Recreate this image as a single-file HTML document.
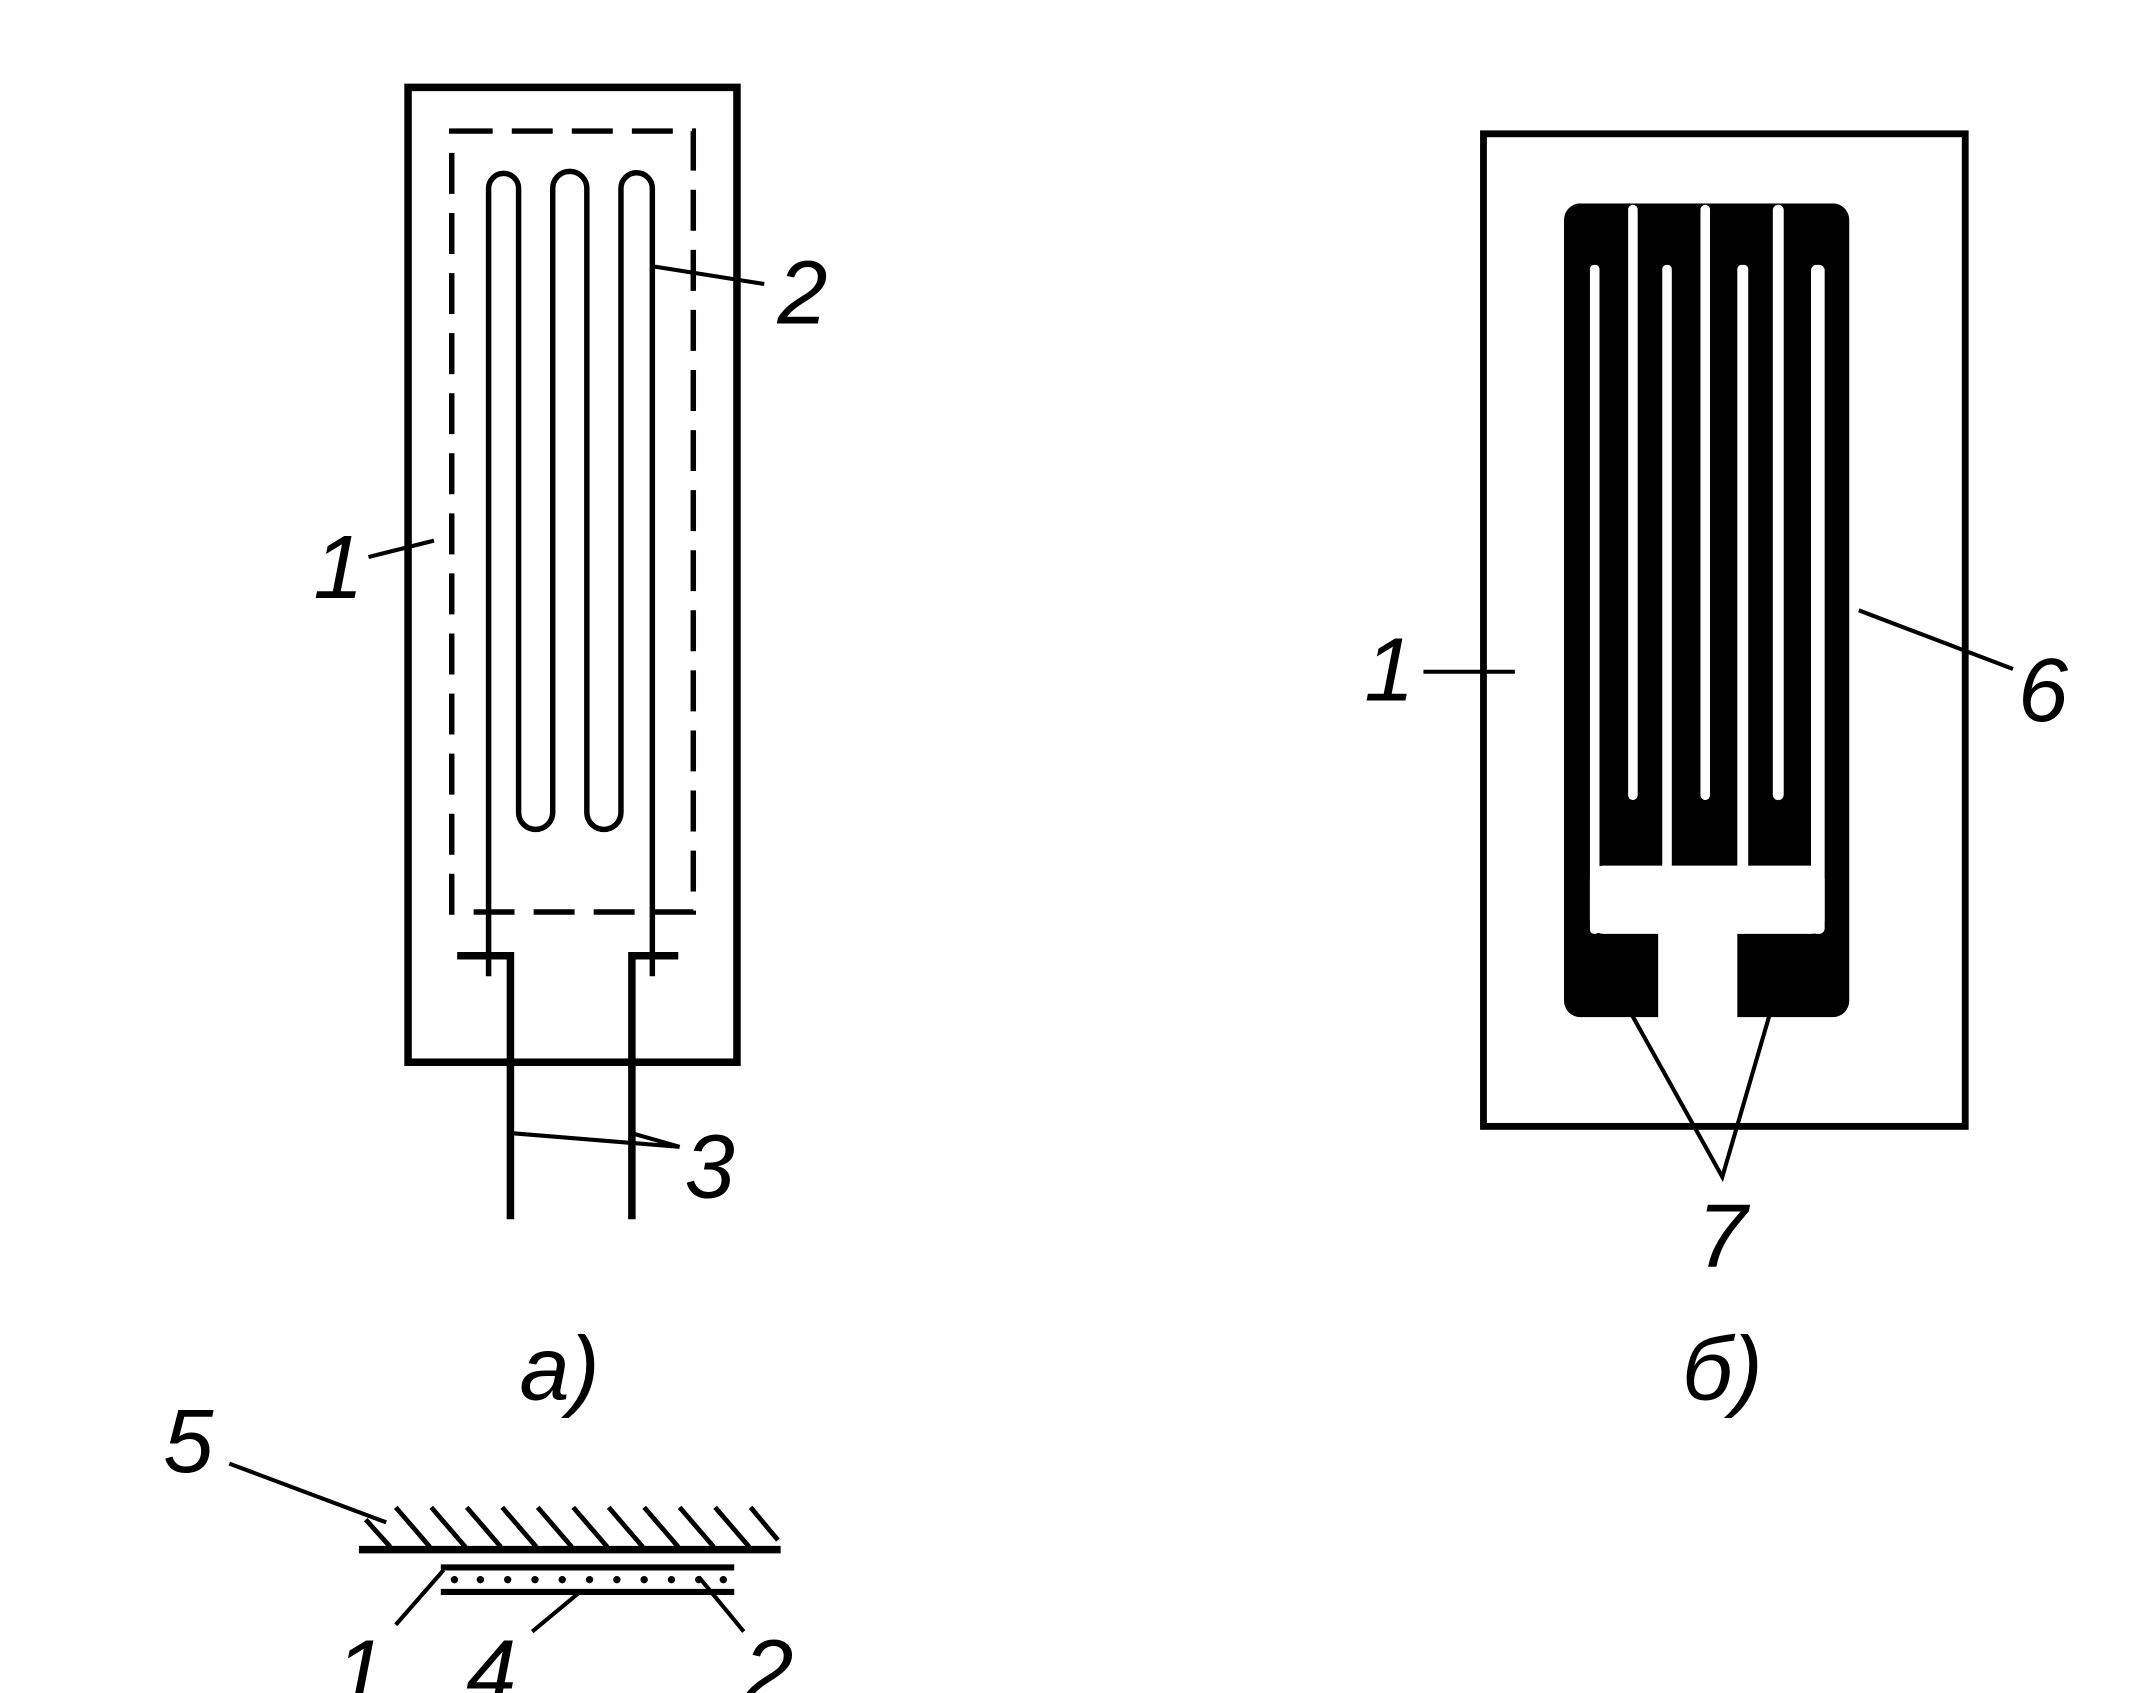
<!DOCTYPE html>
<html><head><meta charset="utf-8"><style>html,body{margin:0;padding:0;background:#fff}svg{display:block}</style></head>
<body>
<svg width="2129" height="1693" viewBox="0 0 1560 1240" preserveAspectRatio="none" xmlns="http://www.w3.org/2000/svg">
<g fill="none" stroke="#000" stroke-linecap="butt">
<!-- left figure -->
<rect x="299" y="64" width="241" height="714" stroke-width="5.5"/>
<rect x="331" y="96" width="177" height="572" stroke-width="4" stroke-dasharray="30,14"/>
<path d="M358 715 V138 A11 11 0 0 1 380 138 V595 A12.5 12.5 0 0 0 405 595 V138 A12.5 12.5 0 0 1 430 138 V595 A12.5 12.5 0 0 0 455 595 V138 A11.5 11.5 0 0 1 478 138 V715" stroke-width="4"/>
<path d="M335 700 H374 V893" stroke-width="5.5"/>
<path d="M497 700 H463 V893" stroke-width="5.5"/>
<path d="M270 408 L318 396" stroke-width="3"/>
<path d="M478 195 L560 208" stroke-width="3"/>
<path d="M375 830 L498 840 M463 830 L498 840" stroke-width="3"/>
<!-- right figure -->
<rect x="1087" y="98" width="353" height="727" stroke-width="5"/>
<path d="M1043 492 H1110" stroke-width="3"/>
<path d="M1362 447 L1475 490" stroke-width="3"/>
<path d="M1195 742 L1262 862 L1297 742" stroke-width="3"/>
<!-- bottom figure -->
<path d="M263 1135 H572" stroke-width="5.5"/>
<path d="M323 1148 H538 M323 1166 H538" stroke-width="4.5"/>
<path d="M168 1072 L283 1115 M290 1190 L325 1150 M390 1195 L425 1166 M512 1155 L545 1195" stroke-width="3"/>
<path d="M268 1113 L286 1133 M290 1104 L315 1133 M316 1104 L341 1133 M342 1104 L367 1133 M368 1104 L393 1133 M394 1104 L419 1133 M420 1104 L445 1133 M446 1104 L471 1133 M472 1104 L497 1133 M498 1104 L523 1133 M524 1104 L549 1133 M550 1104 L570 1128" stroke-width="3.5"/>
</g>
<g fill="#000">
<circle cx="333" cy="1157" r="2.7"/><circle cx="352" cy="1157" r="2.7"/><circle cx="372" cy="1157" r="2.7"/><circle cx="392" cy="1157" r="2.7"/><circle cx="412" cy="1157" r="2.7"/><circle cx="432" cy="1157" r="2.7"/><circle cx="452" cy="1157" r="2.7"/><circle cx="472" cy="1157" r="2.7"/><circle cx="492" cy="1157" r="2.7"/><circle cx="512" cy="1157" r="2.7"/><circle cx="530" cy="1157" r="2.7"/>
<rect x="1146" y="149" width="209" height="596" rx="12"/>
</g>
<g fill="#fff">
<rect x="1165" y="194" width="7" height="490" rx="3"/>
<rect x="1165" y="634" width="172" height="50" rx="10"/>
<rect x="1215" y="682" width="58" height="70"/>
<rect x="1218" y="194" width="7" height="445" rx="3"/>
<rect x="1273" y="194" width="8" height="445" rx="3"/>
<rect x="1327" y="194" width="10" height="490" rx="4"/>
<rect x="1193" y="150" width="7" height="436" rx="3.5"/>
<rect x="1246" y="150" width="7" height="436" rx="3.5"/>
<rect x="1299" y="150" width="8" height="436" rx="4"/>
<rect x="1140" y="140" width="230" height="9"/>
</g>
<g font-family="Liberation Sans, sans-serif" font-style="italic" font-size="66" fill="#000" text-anchor="middle">
<text x="248" y="438">1</text>
<text x="588" y="237">2</text>
<text x="520" y="877">3</text>
<text x="410" y="1025">а)</text>
<text x="1018" y="513">1</text>
<text x="1497" y="528">6</text>
<text x="1262" y="928">7</text>
<text x="1262" y="1025">б)</text>
<text x="138" y="1078">5</text>
<text x="264" y="1247">1</text>
<text x="360" y="1247">4</text>
<text x="563" y="1247">2</text>
</g>
</svg>
</body></html>
